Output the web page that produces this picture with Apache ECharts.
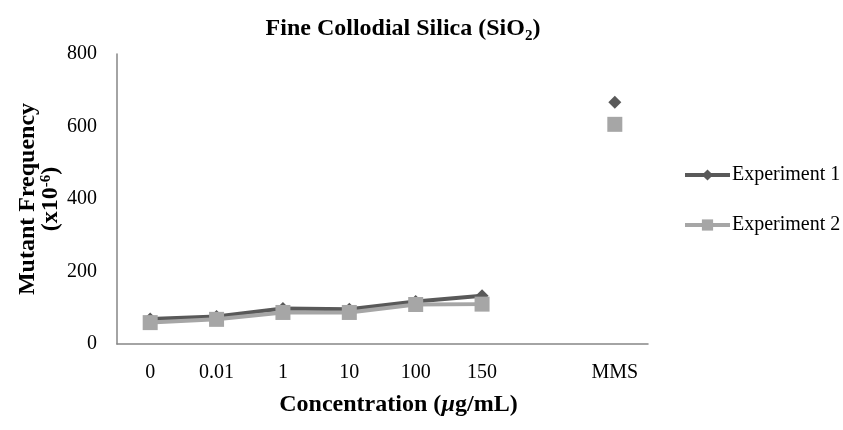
<!DOCTYPE html>
<html><head><meta charset="utf-8">
<script src="https://cdn.jsdelivr.net/npm/echarts@6/dist/echarts.min.js"></script>
<style>html,body{margin:0;padding:0;background:#fff}#c{width:843px;height:430px}</style>
</head><body><div id="c"></div>
<script>
var categories = ['0', '0.01', '1', '10', '100', '150', ' ', 'MMS'];
var experiment1 = [69, 76, 98, 96, 117, 133, null, 667];
var experiment2 = [59, 68, 87, 87, 109, 110, null, 606];
var yTicks = [0, 200, 400, 600, 800];

var font = 'Liberation Serif';
var chart = echarts.init(document.getElementById('c'));
chart.setOption({
  animation: false,
  backgroundColor: '#fff',
  title: {
    text: '{t|Fine Collodial Silica (SiO}{s|2}{t|)}',
    left: 398, top: 9, textAlign: 'center',
    textStyle: {
      rich: {
        t: {fontFamily: font, fontSize: 24, fontWeight: 'bold', color: '#000', lineHeight: 30, verticalAlign: 'middle'},
        s: {fontFamily: font, fontSize: 15, fontWeight: 'bold', color: '#000', lineHeight: 30, verticalAlign: 'bottom', padding: [10, 0, 0, 0]}
      }
    }
  },
  legend: {
    orient: 'vertical', left: 683, top: 165, padding: 0,
    itemWidth: 45, itemHeight: 14, itemGap: 30,
    lineStyle: {width: 4},
    textStyle: {fontFamily: font, fontSize: 20, color: '#000', padding: [0, 0, 0, -3]},
    data: ['Experiment 1', 'Experiment 2']
  },
  grid: {left: 117, right: 195, top: 54, bottom: 86},
  xAxis: {
    type: 'category', data: categories, boundaryGap: true,
    axisLine: {lineStyle: {color: '#868686', width: 1.5}},
    axisTick: {show: false},
    axisLabel: {fontFamily: font, fontSize: 20, color: '#000', margin: 19, interval: 0},
    name: '{b|Concentration (}{i|µ}{b|g/mL)}',
    nameLocation: 'middle', nameGap: 49, nameMoveOverlap: false,
    nameTextStyle: {
      padding: [0, 0, 0, 32],
      rich: {
        b: {fontFamily: font, fontSize: 24, fontWeight: 'bold', color: '#000'},
        i: {fontFamily: font, fontSize: 24, fontWeight: 'bold', fontStyle: 'italic', color: '#000'}
      }
    }
  },
  yAxis: {
    type: 'value', min: yTicks[0], max: yTicks[yTicks.length - 1], interval: 200,
    axisLine: {show: true, lineStyle: {color: '#868686', width: 1.5}},
    axisTick: {show: false},
    splitLine: {show: false},
    axisLabel: {fontFamily: font, fontSize: 20, color: '#000', margin: 20},
    name: '{b|Mutant Frequency}\n{b|(x10}{s|-6}{b|)}',
    nameLocation: 'middle', nameRotate: 90, nameGap: 55, nameMoveOverlap: false,
    nameTextStyle: {
      align: 'center',
      rich: {
        b: {fontFamily: font, fontSize: 24, fontWeight: 'bold', color: '#000', lineHeight: 23, verticalAlign: 'middle'},
        s: {fontFamily: font, fontSize: 15, fontWeight: 'bold', color: '#000', lineHeight: 23, verticalAlign: 'top', padding: [0, 0, 8, 0]}
      }
    }
  },
  series: [
    {
      name: 'Experiment 1', type: 'line', data: experiment1,
      symbol: 'diamond', symbolSize: 13, connectNulls: false,
      lineStyle: {color: '#595959', width: 4},
      itemStyle: {color: '#595959'}
    },
    {
      name: 'Experiment 2', type: 'line', data: experiment2,
      symbol: 'rect', symbolSize: 15, connectNulls: false,
      lineStyle: {color: '#a6a6a6', width: 4},
      itemStyle: {color: '#a6a6a6'}
    }
  ]
});
</script></body></html>
